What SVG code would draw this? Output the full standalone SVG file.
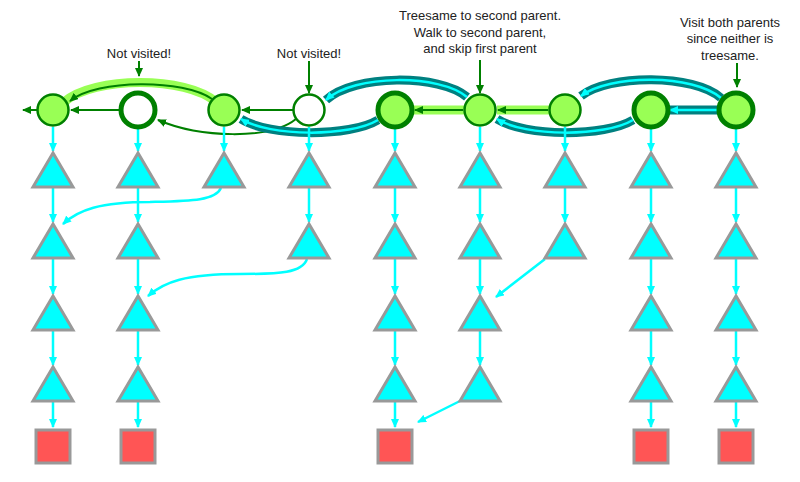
<svg xmlns="http://www.w3.org/2000/svg" width="800" height="482" viewBox="0 0 800 482">
<style>
.lbl{font-family:"Liberation Sans",Arial,sans-serif;font-size:13px;fill:#222;text-anchor:middle}
.n{fill:#99ff55;stroke:#008000;stroke-width:2.5}
.nk{fill:#99ff55;stroke:#008000;stroke-width:5}
.w{fill:#fff;stroke:#008000;stroke-width:2.5}
.wk{fill:#fff;stroke:#008000;stroke-width:5}
.tri{fill:#00ffff;stroke:#999;stroke-width:3;stroke-linejoin:miter}
.sq{fill:#ff5555;stroke:#999;stroke-width:3}
.ga{fill:none;stroke:#008000;stroke-width:2;marker-end:url(#gArr)}
.ca{fill:none;stroke:#00ffff;stroke-width:2.5;marker-end:url(#cArr)}
.lg{fill:none;stroke:#99ff55;stroke-width:9}
.tl{fill:none;stroke:#008080;stroke-width:9}
.tc{fill:none;stroke:#00ffff;stroke-width:2.5;marker-end:url(#cArr)}
</style>
<defs>
<marker id="gArr" markerUnits="userSpaceOnUse" markerWidth="9" markerHeight="8" refX="8" refY="4" orient="auto"><path d="M0,0 L9,4 L0,8 z" fill="#008000"/></marker>
<marker id="cArr" markerUnits="userSpaceOnUse" markerWidth="9" markerHeight="8" refX="8" refY="4" orient="auto"><path d="M0,0 L9,4 L0,8 z" fill="#00ffff"/></marker>
</defs>
<rect width="800" height="482" fill="#fff"/>
<g id="labels">
<text class="lbl" x="139" y="58">Not visited!</text>
<text class="lbl" x="309" y="58">Not visited!</text>
<text class="lbl" x="480" y="20">Treesame to second parent.</text>
<text class="lbl" x="480" y="37">Walk to second parent,</text>
<text class="lbl" x="480" y="53">and skip first parent</text>
<text class="lbl" x="730" y="27">Visit both parents</text>
<text class="lbl" x="730" y="43">since neither is</text>
<text class="lbl" x="730" y="60">treesame.</text>
</g>
<g id="connectors">
<!-- label pointers -->
<path class="ga" d="M139,61 L139,76"/>
<path class="ga" d="M309,61 L309,93"/>
<path class="ga" d="M480,60 L480,93"/>
<path class="ga" d="M737,63 L737,87"/>
<!-- light green bands -->
<path class="lg" d="M216,102 C186,76 94,76 64,102"/>
<path class="lg" d="M464,110 L413,110"/>
<path class="lg" d="M549,110 L497,110"/>
<!-- green arrows -->
<path class="ga" d="M212,99 C184,79 97,79 70,101"/>
<path class="ga" d="M463,110 L415,110"/>
<path class="ga" d="M548,110 L498,110"/>
<path class="ga" d="M37,110 L23,110"/>
<path class="ga" d="M120,110 L71,110"/>
<path class="ga" d="M293,110 L242,110"/>
<path class="ga" d="M296,119 C270,140 200,138 158,120"/>
<!-- teal walks -->
<path class="tl" d="M467,97 C440,74 354,74 326,100"/>
<path class="tc" d="M467,97 C440,74 354,74 326,100"/>
<path class="tl" d="M378,120 C350,137 270,137 241,119"/>
<path class="tc" d="M378,120 C350,137 270,137 241,119"/>
<path class="tl" d="M633,120 C605,137 525,137 497,119"/>
<path class="tc" d="M633,120 C605,137 525,137 497,119"/>
<path class="tl" d="M721,98 C694,74 609,74 581,96"/>
<path class="tc" d="M721,98 C694,74 609,74 581,96"/>
<path class="tl" d="M717,110 L669,110"/>
<path class="tc" d="M717,110 L670,110"/>
<!-- circle to triangle -->
<path class="ca" d="M53,127 L53,151"/>
<path class="ca" d="M138,129 L138,151"/>
<path class="ca" d="M224,127 L224,151"/>
<path class="ca" d="M309,127 L309,151"/>
<path class="ca" d="M395,129 L395,151"/>
<path class="ca" d="M480,127 L480,151"/>
<path class="ca" d="M565,127 L565,151"/>
<path class="ca" d="M651,129 L651,151"/>
<path class="ca" d="M736,129 L736,151"/>
<!-- triangle chains -->
<path class="ca" d="M53,188 L53,222"/>
<path class="ca" d="M53,259 L53,294"/>
<path class="ca" d="M53,331 L53,365"/>
<path class="ca" d="M53,402 L53,427"/>
<path class="ca" d="M138,188 L138,222"/>
<path class="ca" d="M138,259 L138,294"/>
<path class="ca" d="M138,331 L138,365"/>
<path class="ca" d="M138,402 L138,427"/>
<path class="ca" d="M309,188 L309,222"/>
<path class="ca" d="M395,188 L395,222"/>
<path class="ca" d="M395,259 L395,294"/>
<path class="ca" d="M395,331 L395,365"/>
<path class="ca" d="M395,402 L395,427"/>
<path class="ca" d="M480,188 L480,222"/>
<path class="ca" d="M480,259 L480,294"/>
<path class="ca" d="M480,331 L480,365"/>
<path class="ca" d="M565,188 L565,222"/>
<path class="ca" d="M651,188 L651,222"/>
<path class="ca" d="M651,259 L651,294"/>
<path class="ca" d="M651,331 L651,365"/>
<path class="ca" d="M651,402 L651,427"/>
<path class="ca" d="M736,188 L736,222"/>
<path class="ca" d="M736,259 L736,294"/>
<path class="ca" d="M736,331 L736,365"/>
<path class="ca" d="M736,402 L736,427"/>
<!-- cross links -->
<path class="ca" d="M221,188 C215,201 190,201 150,202 C100,202 78,210 63,224"/>
<path class="ca" d="M307,259 C302,273 280,274 240,274 C185,274 164,282 148,296"/>
<path class="ca" d="M545,259 L496,297"/>
<path class="ca" d="M460,401 L418,422"/>
</g>
<g id="n0"><circle class="n" cx="53" cy="110" r="15.5"/></g>
<g id="n1"><circle class="wk" cx="138" cy="110" r="17"/></g>
<g id="n2"><circle class="n" cx="224" cy="110" r="15.5"/></g>
<g id="n3"><circle class="w" cx="309" cy="110" r="15.5"/></g>
<g id="n4"><circle class="nk" cx="395" cy="110" r="17"/></g>
<g id="n5"><circle class="n" cx="480" cy="110" r="15.5"/></g>
<g id="n6"><circle class="n" cx="565" cy="110" r="15.5"/></g>
<g id="n7"><circle class="nk" cx="651" cy="110" r="17"/></g>
<g id="n8"><circle class="nk" cx="736" cy="110" r="17"/></g>
<g id="c0">
<polygon class="tri" points="53,153 33,187 73,187"/>
<polygon class="tri" points="53,224 33,258 73,258"/>
<polygon class="tri" points="53,296 33,330 73,330"/>
<polygon class="tri" points="53,367 33,401 73,401"/>
<rect class="sq" x="36" y="430" width="34" height="33"/>
</g>
<g id="c1">
<polygon class="tri" points="138,153 118,187 158,187"/>
<polygon class="tri" points="138,224 118,258 158,258"/>
<polygon class="tri" points="138,296 118,330 158,330"/>
<polygon class="tri" points="138,367 118,401 158,401"/>
<rect class="sq" x="121" y="430" width="34" height="33"/>
</g>
<g id="c2">
<polygon class="tri" points="224,153 204,187 244,187"/>
</g>
<g id="c3">
<polygon class="tri" points="309,153 289,187 329,187"/>
<polygon class="tri" points="309,224 289,258 329,258"/>
</g>
<g id="c4">
<polygon class="tri" points="395,153 375,187 415,187"/>
<polygon class="tri" points="395,224 375,258 415,258"/>
<polygon class="tri" points="395,296 375,330 415,330"/>
<polygon class="tri" points="395,367 375,401 415,401"/>
<rect class="sq" x="378" y="430" width="34" height="33"/>
</g>
<g id="c5">
<polygon class="tri" points="480,153 460,187 500,187"/>
<polygon class="tri" points="480,224 460,258 500,258"/>
<polygon class="tri" points="480,296 460,330 500,330"/>
<polygon class="tri" points="480,367 460,401 500,401"/>
</g>
<g id="c6">
<polygon class="tri" points="565,153 545,187 585,187"/>
<polygon class="tri" points="565,224 545,258 585,258"/>
</g>
<g id="c7">
<polygon class="tri" points="651,153 631,187 671,187"/>
<polygon class="tri" points="651,224 631,258 671,258"/>
<polygon class="tri" points="651,296 631,330 671,330"/>
<polygon class="tri" points="651,367 631,401 671,401"/>
<rect class="sq" x="634" y="430" width="34" height="33"/>
</g>
<g id="c8">
<polygon class="tri" points="736,153 716,187 756,187"/>
<polygon class="tri" points="736,224 716,258 756,258"/>
<polygon class="tri" points="736,296 716,330 756,330"/>
<polygon class="tri" points="736,367 716,401 756,401"/>
<rect class="sq" x="719" y="430" width="34" height="33"/>
</g>
</svg>
